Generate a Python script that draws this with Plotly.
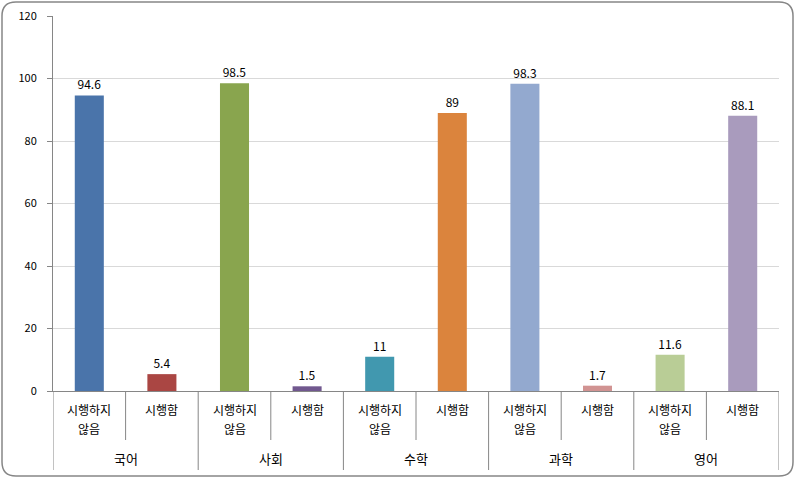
import plotly.graph_objects as go

subjects = ["국어", "사회", "수학", "과학", "영어"]
sub_labels = [["시행하지", "않음"], ["시행함"]]
values = [94.6, 5.4, 98.5, 1.5, 11, 89, 98.3, 1.7, 11.6, 88.1]
colors = ["#4A74AA", "#AA4643", "#89A54E", "#71588F", "#4198AF",
          "#DB843D", "#93A9CF", "#D19392", "#B9CD96", "#A99BBD"]
y_ticks = [0, 20, 40, 60, 80, 100, 120]

W, H = 795, 478
L, R, T, B = 53, 16, 16, 87
pw, ph = W - L - R, H - T - B
FONT = "Noto Sans CJK KR"

xs = list(range(len(values)))
fig = go.Figure(go.Bar(
    x=xs, y=values, width=0.4, marker=dict(color=colors, line=dict(width=0)),
    text=[f"{v:g}" for v in values], textposition="outside",
    textfont=dict(size=12, color="#000000", family=FONT), cliponaxis=False,
    hoverinfo="skip"))

def py(pix):
    return -(pix - (H - B)) / ph

def px(pix):
    return (pix - L) / pw

shapes = []
annotations = []
for gi, subj in enumerate(subjects):
    for si, lines in enumerate(sub_labels):
        idx = gi * 2 + si
        for li, line in enumerate(lines):
            annotations.append(dict(x=idx, y=py(409.5 + li * 18.5), xref="x", yref="paper",
                                    text=line, showarrow=False, yanchor="middle",
                                    xanchor="center",
                                    font=dict(size=12, family=FONT, color="#000")))
    annotations.append(dict(x=gi * 2 + 0.5, y=py(458), xref="x", yref="paper", text=subj,
                            showarrow=False, yanchor="middle",
                            font=dict(size=13, family=FONT, color="#000")))
    shapes.append(dict(type="line", xref="x", yref="paper", x0=gi * 2 + 0.5, x1=gi * 2 + 0.5,
                       y0=0, y1=py(440), line=dict(color="#868686", width=1)))
for b in range(len(subjects) + 1):
    xb = b * 2 - 0.5
    shapes.append(dict(type="line", xref="x", yref="paper", x0=xb, x1=xb,
                       y0=0, y1=py(470), line=dict(color="#868686", width=1)))

# rounded outer border
x0, x1, y0, y1, r = 2, 793, 2, 476, 14
path = (f"M {px(x0 + r)} {py(y0)} L {px(x1 - r)} {py(y0)} Q {px(x1)} {py(y0)} {px(x1)} {py(y0 + r)} "
        f"L {px(x1)} {py(y1 - r)} Q {px(x1)} {py(y1)} {px(x1 - r)} {py(y1)} "
        f"L {px(x0 + r)} {py(y1)} Q {px(x0)} {py(y1)} {px(x0)} {py(y1 - r)} "
        f"L {px(x0)} {py(y0 + r)} Q {px(x0)} {py(y0)} {px(x0 + r)} {py(y0)} Z")
shapes.append(dict(type="path", xref="paper", yref="paper", path=path,
                   line=dict(color="#868686", width=1.5), layer="below"))

fig.update_layout(
    width=W, height=H, margin=dict(l=L, r=R, t=T, b=B, autoexpand=False),
    paper_bgcolor="white", plot_bgcolor="white", showlegend=False,
    font=dict(family=FONT, size=12, color="#000"),
    xaxis=dict(range=[-0.5, len(values) - 0.5], showticklabels=False, showgrid=False,
               zeroline=False, showline=True, linecolor="#868686", linewidth=1, ticks="",
               automargin=False),
    yaxis=dict(range=[0, 120], tickvals=y_ticks, showgrid=True, gridcolor="#D9D9D9",
               gridwidth=1, zeroline=False, showline=True, linecolor="#868686",
               linewidth=1, ticks="outside", ticklen=5, tickcolor="#868686",
               tickfont=dict(size=11, family=FONT, color="#000"), ticklabelstandoff=8,
               automargin=False),
    shapes=shapes, annotations=annotations, bargap=0.6)

fig.write_html("out.html", config={"displayModeBar": False},
               post_script="document.body.style.margin='0';document.body.style.overflow='hidden';")
